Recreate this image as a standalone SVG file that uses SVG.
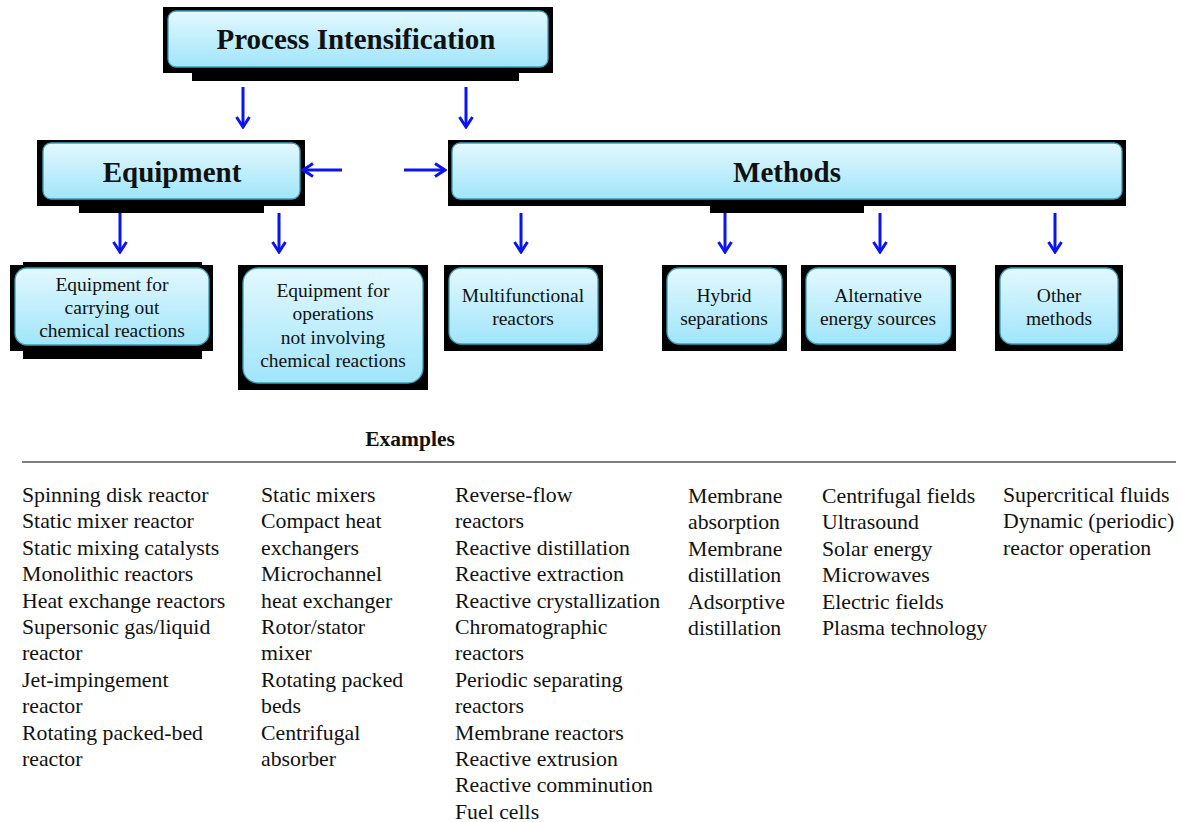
<svg xmlns="http://www.w3.org/2000/svg" width="1181" height="822" viewBox="0 0 1181 822">
  <style>
    .shade { fill: #000; }
    .box { fill: url(#cyanFill); stroke: #3d9db4; stroke-width: 1.3; }
    .title { font-family: "Liberation Serif", "Times New Roman", serif; font-weight: bold; font-size: 29px; fill: #111; text-anchor: middle; }
    .label { font-family: "Liberation Serif", "Times New Roman", serif; font-size: 19.5px; fill: #111; text-anchor: middle; }
    .list { font-family: "Liberation Serif", "Times New Roman", serif; font-size: 21.8px; fill: #111; }
    .head { font-family: "Liberation Serif", "Times New Roman", serif; font-weight: bold; font-size: 21.5px; fill: #111; text-anchor: middle; }
    .arrow { stroke: #0a14f0; stroke-width: 3; fill: none; marker-end: url(#chevron); }
  </style>
  <defs>
    <linearGradient id="cyanFill" x1="0" y1="0" x2="0" y2="1">
      <stop offset="0" stop-color="#e3f8fe"/>
      <stop offset="1" stop-color="#a0e5fa"/>
    </linearGradient>
    <marker id="chevron" markerUnits="userSpaceOnUse" viewBox="-12 -8 14 16" refX="0" refY="0" markerWidth="14" markerHeight="16" orient="auto">
      <path d="M -10 -6.5 L 0 0 L -10 6.5" fill="none" stroke="#0a14f0" stroke-width="3"/>
    </marker>
  </defs>

  <rect width="1181" height="822" fill="#fff"/>

  <!-- top level -->
  <g id="process-intensification">
    <rect class="shade" x="163" y="7" width="390" height="66"/>
    <rect class="shade" x="192" y="72" width="327" height="9"/>
    <rect class="box" x="168" y="11" width="380" height="56" rx="8"/>
    <text class="title" x="356" y="49">Process Intensification</text>
  </g>

  <!-- second level -->
  <g id="equipment">
    <rect class="shade" x="37" y="140" width="268" height="66"/>
    <rect class="shade" x="79" y="205" width="185" height="8"/>
    <rect class="box" x="43" y="143" width="257" height="56" rx="8"/>
    <text class="title" x="172" y="182">Equipment</text>
  </g>
  <g id="methods">
    <rect class="shade" x="448" y="140" width="678" height="66"/>
    <rect class="shade" x="710" y="205" width="154" height="8"/>
    <rect class="box" x="452" y="143" width="670" height="56" rx="8"/>
    <text class="title" x="787" y="182">Methods</text>
  </g>

  <!-- third level -->
  <g id="equipment-reactions">
    <rect class="shade" x="23" y="262" width="179" height="97"/>
    <rect class="shade" x="10" y="265" width="203" height="86"/>
    <rect class="box" x="15" y="268" width="194" height="77" rx="12"/>
    <text class="label" x="112" y="291">Equipment for</text>
    <text class="label" x="112" y="314">carrying out</text>
    <text class="label" x="112" y="337">chemical reactions</text>
  </g>
  <g id="equipment-operations">
    <rect class="shade" x="238" y="265" width="190" height="125"/>
    <rect class="box" x="243" y="268" width="180" height="115" rx="15"/>
    <text class="label" x="333" y="297">Equipment for</text>
    <text class="label" x="333" y="320">operations</text>
    <text class="label" x="333" y="344">not involving</text>
    <text class="label" x="333" y="367">chemical reactions</text>
  </g>
  <g id="multifunctional-reactors">
    <rect class="shade" x="444" y="265" width="159" height="86"/>
    <rect class="box" x="449" y="268" width="149" height="76" rx="12"/>
    <text class="label" x="523" y="302">Multifunctional</text>
    <text class="label" x="523" y="325">reactors</text>
  </g>
  <g id="hybrid-separations">
    <rect class="shade" x="662" y="265" width="125" height="86"/>
    <rect class="box" x="667" y="268" width="115" height="76" rx="12"/>
    <text class="label" x="724" y="302">Hybrid</text>
    <text class="label" x="724" y="325">separations</text>
  </g>
  <g id="alternative-energy">
    <rect class="shade" x="801" y="265" width="155" height="86"/>
    <rect class="box" x="806" y="268" width="145" height="76" rx="12"/>
    <text class="label" x="878" y="302">Alternative</text>
    <text class="label" x="878" y="325">energy sources</text>
  </g>
  <g id="other-methods">
    <rect class="shade" x="995" y="265" width="128" height="86"/>
    <rect class="box" x="1000" y="268" width="118" height="76" rx="12"/>
    <text class="label" x="1059" y="302">Other</text>
    <text class="label" x="1059" y="325">methods</text>
  </g>

  <!-- connectors -->
  <g id="connectors">
    <path class="arrow" d="M 243 87 V 127"/>
    <path class="arrow" d="M 466 87 V 127"/>
    <path class="arrow" d="M 342 170 H 303"/>
    <path class="arrow" d="M 404 170 H 445"/>
    <path class="arrow" d="M 120 213 V 252"/>
    <path class="arrow" d="M 279 213 V 252"/>
    <path class="arrow" d="M 521 213 V 252"/>
    <path class="arrow" d="M 725 213 V 252"/>
    <path class="arrow" d="M 880 213 V 252"/>
    <path class="arrow" d="M 1055 213 V 252"/>
  </g>

  <!-- examples table -->
  <g id="examples">
    <text class="head" x="410" y="446">Examples</text>
    <line x1="22" y1="462" x2="1176" y2="462" stroke="#555" stroke-width="1.5"/>

    <text class="list" x="22" y="502">
      <tspan x="22" dy="0">Spinning disk reactor</tspan>
      <tspan x="22" dy="26.4">Static mixer reactor</tspan>
      <tspan x="22" dy="26.4">Static mixing catalysts</tspan>
      <tspan x="22" dy="26.4">Monolithic reactors</tspan>
      <tspan x="22" dy="26.4">Heat exchange reactors</tspan>
      <tspan x="22" dy="26.4">Supersonic gas/liquid</tspan>
      <tspan x="22" dy="26.4">reactor</tspan>
      <tspan x="22" dy="26.4">Jet-impingement</tspan>
      <tspan x="22" dy="26.4">reactor</tspan>
      <tspan x="22" dy="26.4">Rotating packed-bed</tspan>
      <tspan x="22" dy="26.4">reactor</tspan>
    </text>

    <text class="list" x="261" y="502">
      <tspan x="261" dy="0">Static mixers</tspan>
      <tspan x="261" dy="26.4">Compact heat</tspan>
      <tspan x="261" dy="26.4">exchangers</tspan>
      <tspan x="261" dy="26.4">Microchannel</tspan>
      <tspan x="261" dy="26.4">heat exchanger</tspan>
      <tspan x="261" dy="26.4">Rotor/stator</tspan>
      <tspan x="261" dy="26.4">mixer</tspan>
      <tspan x="261" dy="26.4">Rotating packed</tspan>
      <tspan x="261" dy="26.4">beds</tspan>
      <tspan x="261" dy="26.4">Centrifugal</tspan>
      <tspan x="261" dy="26.4">absorber</tspan>
    </text>

    <text class="list" x="455" y="502">
      <tspan x="455" dy="0">Reverse-flow</tspan>
      <tspan x="455" dy="26.4">reactors</tspan>
      <tspan x="455" dy="26.4">Reactive distillation</tspan>
      <tspan x="455" dy="26.4">Reactive extraction</tspan>
      <tspan x="455" dy="26.4">Reactive crystallization</tspan>
      <tspan x="455" dy="26.4">Chromatographic</tspan>
      <tspan x="455" dy="26.4">reactors</tspan>
      <tspan x="455" dy="26.4">Periodic separating</tspan>
      <tspan x="455" dy="26.4">reactors</tspan>
      <tspan x="455" dy="26.4">Membrane reactors</tspan>
      <tspan x="455" dy="26.4">Reactive extrusion</tspan>
      <tspan x="455" dy="26.4">Reactive comminution</tspan>
      <tspan x="455" dy="26.4">Fuel cells</tspan>
    </text>

    <text class="list" x="688" y="503">
      <tspan x="688" dy="0">Membrane</tspan>
      <tspan x="688" dy="26.4">absorption</tspan>
      <tspan x="688" dy="26.4">Membrane</tspan>
      <tspan x="688" dy="26.4">distillation</tspan>
      <tspan x="688" dy="26.4">Adsorptive</tspan>
      <tspan x="688" dy="26.4">distillation</tspan>
    </text>

    <text class="list" x="822" y="503">
      <tspan x="822" dy="0">Centrifugal fields</tspan>
      <tspan x="822" dy="26.4">Ultrasound</tspan>
      <tspan x="822" dy="26.4">Solar energy</tspan>
      <tspan x="822" dy="26.4">Microwaves</tspan>
      <tspan x="822" dy="26.4">Electric fields</tspan>
      <tspan x="822" dy="26.4">Plasma technology</tspan>
    </text>

    <text class="list" x="1003" y="502">
      <tspan x="1003" dy="0">Supercritical fluids</tspan>
      <tspan x="1003" dy="26.4">Dynamic (periodic)</tspan>
      <tspan x="1003" dy="26.4">reactor operation</tspan>
    </text>
  </g>
</svg>
